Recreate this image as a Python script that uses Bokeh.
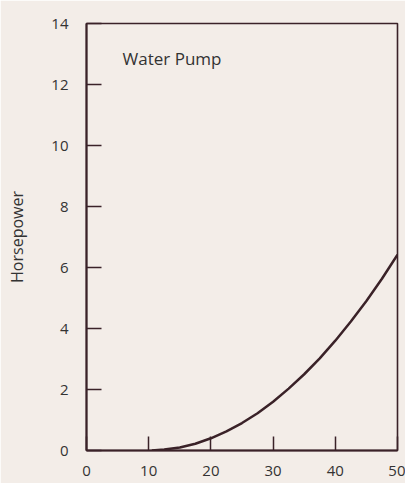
from bokeh.plotting import figure
from bokeh.models import FixedTicker, Range1d, Label
from bokeh.embed import file_html
from bokeh.resources import INLINE

# Data
speed = [10.5, 12.5, 15, 17.5, 20, 22.5, 25, 27.5, 30, 32.5, 35, 37.5, 40, 42.5, 45, 47.5, 50]
horsepower = [0, 0.03, 0.1, 0.22, 0.4, 0.63, 0.9, 1.22, 1.6, 2.03, 2.5, 3.02, 3.6, 4.23, 4.9, 5.63, 6.42]
x_ticks = [0, 10, 20, 30, 40, 50]
y_ticks = [0, 2, 4, 6, 8, 10, 12, 14]
title_text = "Water Pump"
y_label = "Horsepower"

BG = "#f3ede8"
INK = "#3a2228"
TXT = "#333333"
FONT = "Open Sans"

p = figure(width=405, height=483, output_backend="svg", toolbar_location=None,
           x_range=Range1d(0, 50), y_range=Range1d(0, 14),
           min_border_left=86, min_border_top=23, min_border_right=8, min_border_bottom=33)

p.background_fill_color = BG
p.border_fill_color = BG
p.outline_line_color = INK
p.outline_line_width = 1.6
p.grid.visible = False

p.line(speed, horsepower, line_color=INK, line_width=2.5)

for ax in (p.xaxis[0], p.yaxis[0]):
    ax.axis_line_color = INK
    ax.axis_line_width = 2
    ax.major_tick_line_color = INK
    ax.major_tick_line_width = 1.5
    ax.major_tick_out = 0
    ax.minor_tick_line_color = None
    ax.major_label_text_font = FONT
    ax.major_label_text_font_size = "15px"
    ax.major_label_text_color = TXT

p.xaxis.ticker = FixedTicker(ticks=x_ticks)
p.yaxis.ticker = FixedTicker(ticks=y_ticks)
p.xaxis.major_tick_in = 14
p.yaxis.major_tick_in = 15
p.xaxis.major_label_standoff = 15
p.yaxis.major_label_standoff = 18

p.yaxis.axis_label = y_label
p.yaxis.axis_label_text_font = FONT
p.yaxis.axis_label_text_font_size = "16px"
p.yaxis.axis_label_text_font_style = "normal"
p.yaxis.axis_label_text_color = TXT
p.yaxis.axis_label_standoff = 20

p.add_layout(Label(x=5.8, y=12.85, text=title_text, text_font=FONT,
                   text_font_size="17px", text_color=TXT,
                   text_baseline="middle", text_align="left"))

open("out.html", "w").write(file_html(p, INLINE))
